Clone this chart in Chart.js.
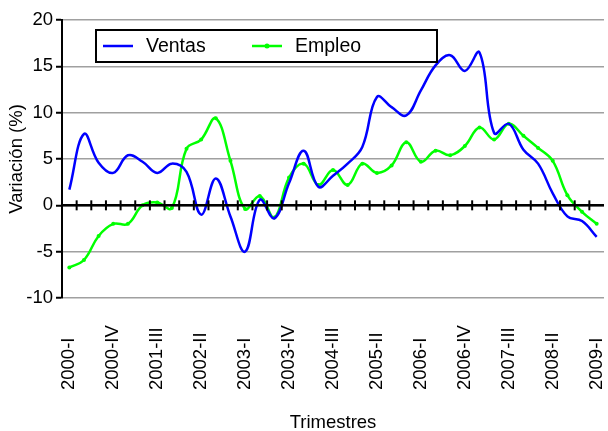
<!DOCTYPE html>
<html>
<head>
<meta charset="utf-8">
<script src="https://cdn.jsdelivr.net/npm/chart.js@4/dist/chart.umd.min.js"></script>
<style>
  html, body { margin: 0; padding: 0; background: #fff; }
  #wrap { width: 608px; height: 431px; }
</style>
</head>
<body>
<div id="wrap"><canvas id="chart" width="608" height="431"></canvas></div>
<script>
// Quarters 2000-I .. 2009-I
const quarters = [
    '2000-I', '2000-II', '2000-III', '2000-IV',
    '2001-I', '2001-II', '2001-III', '2001-IV',
    '2002-I', '2002-II', '2002-III', '2002-IV',
    '2003-I', '2003-II', '2003-III', '2003-IV',
    '2004-I', '2004-II', '2004-III', '2004-IV',
    '2005-I', '2005-II', '2005-III', '2005-IV',
    '2006-I', '2006-II', '2006-III', '2006-IV',
    '2007-I', '2007-II', '2007-III', '2007-IV',
    '2008-I', '2008-II', '2008-III', '2008-IV',
    '2009-I'
];

// Variación (%)
const ventas = [
    1.7, 7.7, 4.6, 3.5, 5.4, 4.7, 3.5, 4.5, 3.6,
    -1.0, 2.9, -1.2, -5.0, 0.6, -1.4, 2.4, 5.9, 2.0,
    3.2, 4.5, 6.3, 11.7, 10.6, 9.7, 12.4, 15.1, 16.2,
    14.5, 16.5, 7.8, 8.8, 6.0, 4.5, 1.3, -1.2, -1.7,
    -3.4
];

const empleo = [
    -6.7, -5.9, -3.3, -2.0, -2.0, 0.0, 0.3, -0.3, 6.1,
    7.1, 9.4, 4.8, -0.4, 1.0, -1.3, 3.0, 4.5, 2.2,
    3.8, 2.2, 4.5, 3.5, 4.3, 6.8, 4.7, 5.9, 5.4,
    6.4, 8.4, 7.1, 8.8, 7.5, 6.2, 4.8, 1.1, -0.7,
    -2.0
];

const yTicks = [-10, -5, 0, 5, 10, 15, 20];
const labelEvery = 3;

const FONT = 'Liberation Sans, Arial, Helvetica, sans-serif';
const TXT = 18.5;

// Zero line with tick marks at every category boundary
const zeroTicks = {
    id: 'zeroTicks',
    afterDatasetsDraw(chart) {
        const ctx = chart.ctx;
        const x = chart.scales.x;
        const y = chart.scales.y;
        const y0 = y.getPixelForValue(0);
        const step = x.getPixelForValue(1) - x.getPixelForValue(0);
        ctx.save();
        ctx.strokeStyle = '#000';
        ctx.lineWidth = 2.5;
        ctx.beginPath();
        ctx.moveTo(chart.chartArea.left, y0);
        ctx.lineTo(chart.chartArea.right, y0);
        ctx.stroke();
        ctx.lineWidth = 2;
        for (let i = 1; i < quarters.length; i++) {
            const px = x.getPixelForValue(i) - step / 2;
            ctx.beginPath();
            ctx.moveTo(px, y0 - 5);
            ctx.lineTo(px, y0 + 5);
            ctx.stroke();
        }
        ctx.restore();
    }
};

// Vertical quarter labels, bottom-aligned like the original
const xLabels = {
    id: 'xLabels',
    afterDraw(chart) {
        const ctx = chart.ctx;
        const x = chart.scales.x;
        const baseY = chart.chartArea.bottom + 92;
        ctx.save();
        ctx.fillStyle = '#000';
        ctx.font = TXT + 'px ' + FONT;
        ctx.textAlign = 'left';
        ctx.textBaseline = 'middle';
        quarters.forEach((q, i) => {
            if (i % labelEvery !== 0) return;
            ctx.save();
            ctx.translate(x.getPixelForValue(i), baseY);
            ctx.rotate(-Math.PI / 2);
            ctx.fillText(q, 0, 0);
            ctx.restore();
        });
        ctx.restore();
    }
};

// Boxed legend inside the plot
const boxLegend = {
    id: 'boxLegend',
    afterDraw(chart) {
        const ctx = chart.ctx;
        const area = chart.chartArea;
        const bx = area.left + 34, by = area.top + 10, bw = 341, bh = 32;
        ctx.save();
        ctx.fillStyle = '#fff';
        ctx.fillRect(bx, by, bw, bh);
        ctx.strokeStyle = '#000';
        ctx.lineWidth = 2;
        ctx.strokeRect(bx, by, bw, bh);
        const cy = by + bh / 2;
        const slots = [bx + 7, bx + 156];
        chart.data.datasets.forEach((ds, i) => {
            const sx = slots[i];
            ctx.strokeStyle = ds.borderColor;
            ctx.lineWidth = 2.5;
            ctx.beginPath();
            ctx.moveTo(sx, cy);
            ctx.lineTo(sx + 30, cy);
            ctx.stroke();
            if (ds.pointRadius > 0) {
                ctx.fillStyle = ds.borderColor;
                ctx.beginPath();
                ctx.arc(sx + 15, cy, 2.5, 0, Math.PI * 2);
                ctx.fill();
            }
            ctx.fillStyle = '#000';
            ctx.font = '19.5px ' + FONT;
            ctx.textBaseline = 'middle';
            ctx.fillText(ds.label, sx + 43, cy + 1);
        });
        ctx.restore();
    }
};

const ctx = document.getElementById('chart').getContext('2d');

new Chart(ctx, {
    type: 'line',
    data: {
        labels: quarters,
        datasets: [
            {
                label: 'Ventas',
                data: ventas,
                borderColor: '#0000FF',
                borderWidth: 2.5,
                pointRadius: 0,
                tension: 0.4,
                fill: false
            },
            {
                label: 'Empleo',
                data: empleo,
                borderColor: '#00FF00',
                backgroundColor: '#00FF00',
                borderWidth: 2.5,
                pointRadius: 2,
                pointBorderWidth: 0,
                tension: 0.4,
                fill: false
            }
        ]
    },
    options: {
        responsive: false,
        animation: false,
        layout: { padding: { top: 20, right: 1, left: 0, bottom: 0 } },
        plugins: {
            legend: { display: false },
            tooltip: { enabled: false }
        },
        scales: {
            x: {
                type: 'category',
                offset: true,
                grid: { display: false },
                border: { display: false },
                ticks: { display: false },
                title: {
                    display: true,
                    text: 'Trimestres',
                    color: '#000',
                    font: { family: FONT, size: TXT, lineHeight: 1 },
                    padding: { top: 0, bottom: -1 }
                },
                afterFit: function(scale) {
                    scale.height = 133;
                    scale.paddingLeft = 0;
                    scale.paddingRight = 0;
                }
            },
            y: {
                min: -10,
                max: 20,
                afterBuildTicks: function(scale) {
                    scale.ticks = yTicks.map(v => ({ value: v }));
                },
                grid: {
                    color: '#a0a0a0',
                    lineWidth: 1.5,
                    tickColor: '#000',
                    tickLength: 6,
                    tickWidth: 2
                },
                border: { display: true, color: '#000', width: 2 },
                ticks: {
                    padding: 3,
                    color: '#000',
                    font: { family: FONT, size: TXT }
                },
                title: {
                    display: true,
                    text: 'Variación (%)',
                    color: '#000',
                    font: { family: FONT, size: TXT },
                    padding: { top: 6, bottom: 0 }
                },
                afterFit: function(scale) { scale.width = 62; }
            }
        }
    },
    plugins: [zeroTicks, xLabels, boxLegend]
});
</script>
</body>
</html>
